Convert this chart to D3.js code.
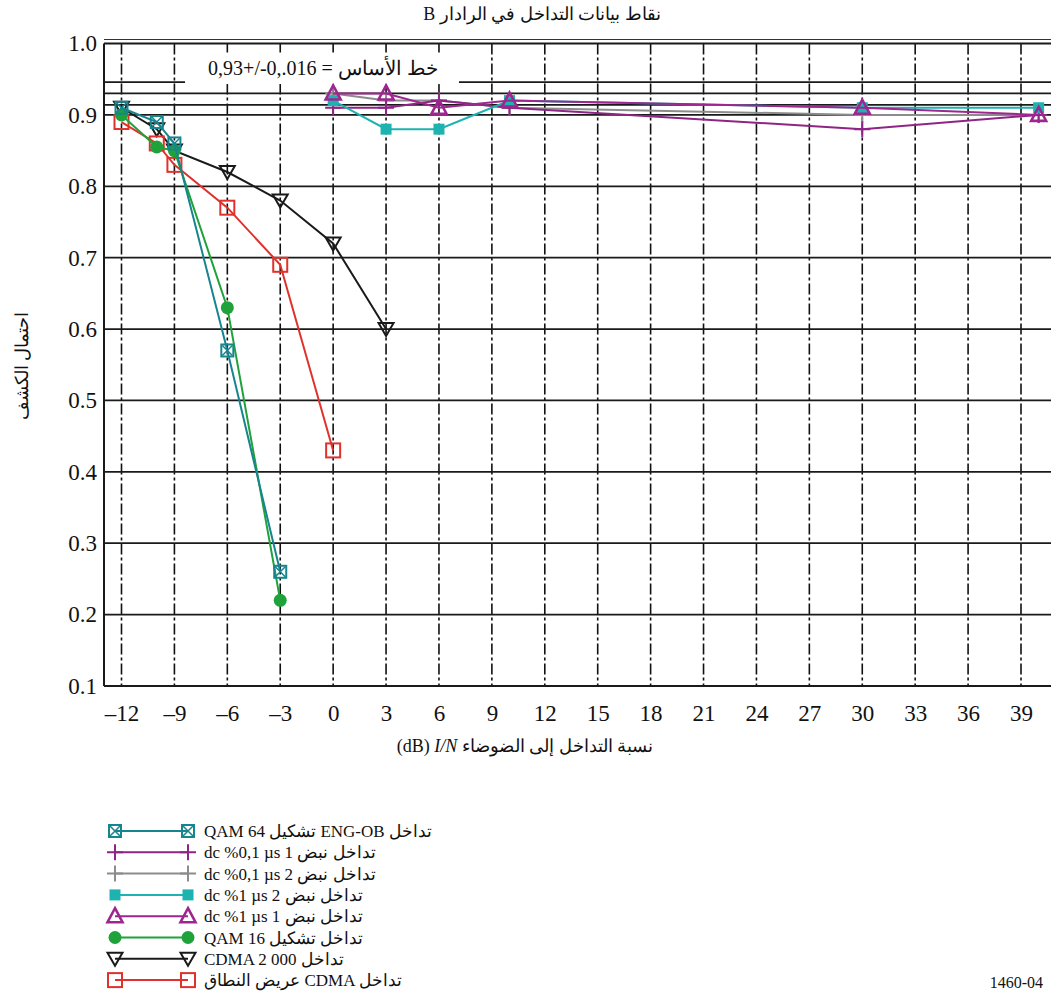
<!DOCTYPE html>
<html>
<head>
<meta charset="utf-8">
<script src="https://cdn.jsdelivr.net/npm/d3@7"></script>
<style>
  html, body { margin: 0; padding: 0; background: #fff; }
  svg { display: block; }
  text { font-family: "Liberation Serif", "DejaVu Serif", serif; fill: #111; }
</style>
</head>
<body>
<svg id="chart" width="1051" height="996"></svg>
<script>
// ---------------- DATA ----------------
const xTicks = [-12, -9, -6, -3, 0, 3, 6, 9, 12, 15, 18, 21, 24, 27, 30, 33, 36, 39];
const yTicks = [0.1, 0.2, 0.3, 0.4, 0.5, 0.6, 0.7, 0.8, 0.9, 1.0];
const baselineLevels = [0.946, 0.93, 0.914];

const engObX = [-12, -10, -9, -6, -3];
const engObY = [0.91, 0.89, 0.86, 0.57, 0.26];

const pulseX = [0, 3, 6, 10, 30, 40];
const pulse1us01Y = [0.91, 0.91, 0.92, 0.91, 0.88, 0.90];
const pulse2us01Y = [0.93, 0.92, 0.92, 0.91, 0.90, 0.90];
const pulse2us1Y  = [0.92, 0.88, 0.88, 0.92, 0.91, 0.91];
const pulse1us1Y  = [0.93, 0.93, 0.91, 0.92, 0.91, 0.90];

const qam16X = [-12, -10, -9, -6, -3];
const qam16Y = [0.90, 0.855, 0.85, 0.63, 0.22];

const cdma2000X = [-12, -10, -9, -6, -3, 0, 3];
const cdma2000Y = [0.91, 0.88, 0.85, 0.82, 0.78, 0.72, 0.60];

const wcdmaX = [-12, -10, -9, -6, -3, 0];
const wcdmaY = [0.89, 0.86, 0.83, 0.77, 0.69, 0.43];

const titleText = "نقاط بيانات التداخل في الرادار B";
const yLabelText = "احتمال الكشف";
const baselineText = "0,93+/-0,.016 = خط الأساس";
const figId = "1460-04";

// series: [name (visual order), xs, ys, colour, marker]
const series = [
  {label: "dc %0,1 µs 2 تداخل نبض", x: pulseX, y: pulse2us01Y, color: "#8c8c8c", marker: "plus"},
  {label: "dc %0,1 µs 1 تداخل نبض", x: pulseX, y: pulse1us01Y, color: "#8e2586", marker: "plus"},
  {label: "dc %1 µs 2 تداخل نبض",   x: pulseX, y: pulse2us1Y,  color: "#1db3b0", marker: "fsquare"},
  {label: "dc %1 µs 1 تداخل نبض",   x: pulseX, y: pulse1us1Y,  color: "#9e2690", marker: "triup"},
  {label: "CDMA 2 000 تداخل",        x: cdma2000X, y: cdma2000Y, color: "#1a1a1a", marker: "tridown"},
  {label: "عريض النطاق CDMA تداخل",  x: wcdmaX, y: wcdmaY, color: "#e0322c", marker: "osquare"},
  {label: "QAM 16 تداخل تشكيل",      x: qam16X, y: qam16Y, color: "#1fa23a", marker: "circle"},
  {label: "QAM 64 تشكيل ENG-OB تداخل", x: engObX, y: engObY, color: "#17858e", marker: "xsquare"}
];
const legendOrder = [
  "QAM 64 تشكيل ENG-OB تداخل",
  "dc %0,1 µs 1 تداخل نبض",
  "dc %0,1 µs 2 تداخل نبض",
  "dc %1 µs 2 تداخل نبض",
  "dc %1 µs 1 تداخل نبض",
  "QAM 16 تداخل تشكيل",
  "CDMA 2 000 تداخل",
  "عريض النطاق CDMA تداخل"
];

// ---------------- SCALES ----------------
const svg = d3.select("#chart");
const x = d3.scaleLinear().domain([-12, 39]).range([121.5, 1021]);
const y = d3.scaleLinear().domain([0.1, 1.0]).range([686, 43.5]);
const plotLeft = 104, plotRight = 1051;

// ---------------- GRID ----------------
const g = svg.append("g");
g.selectAll(".vgrid").data(xTicks).join("line")
  .attr("x1", d => x(d)).attr("x2", d => x(d))
  .attr("y1", y(1.0)).attr("y2", y(0.1))
  .attr("stroke", "#111").attr("stroke-width", 1.6)
  .attr("stroke-dasharray", "11,3,3,3");
g.selectAll(".hgrid").data(yTicks).join("line")
  .attr("x1", plotLeft).attr("x2", plotRight)
  .attr("y1", d => y(d)).attr("y2", d => y(d))
  .attr("stroke", "#1a1a1a").attr("stroke-width", d => d === 0.1 ? 2.2 : 1.8);
g.append("line").attr("x1", plotLeft).attr("x2", plotRight)
  .attr("y1", y(1.0) - 4).attr("y2", y(1.0) - 4)
  .attr("stroke", "#333").attr("stroke-width", 1);
g.selectAll(".base").data(baselineLevels).join("line")
  .attr("x1", plotLeft).attr("x2", plotRight)
  .attr("y1", d => y(d)).attr("y2", d => y(d))
  .attr("stroke", "#1a1a1a").attr("stroke-width", 1.8);
g.append("line").attr("x1", plotLeft).attr("x2", plotLeft)
  .attr("y1", y(1.0)).attr("y2", y(0.1))
  .attr("stroke", "#1a1a1a").attr("stroke-width", 2);

// baseline label box
g.append("rect").attr("x", 185).attr("y", y(1.0) + 9)
  .attr("width", 274).attr("height", y(baselineLevels[0]) - y(1.0) - 7)
  .attr("fill", "#fff");
g.append("text").attr("x", 323).attr("y", 75)
  .attr("text-anchor", "middle").attr("font-size", 20)
  .text(baselineText);

// ---------------- AXES ----------------
const yAxis = d3.axisLeft(y).tickValues(yTicks).tickFormat(d3.format(".1f"))
  .tickSize(0).tickPadding(7);
const ya = svg.append("g").attr("transform", `translate(${plotLeft},0)`).call(yAxis);
ya.select(".domain").remove();
ya.selectAll("text").attr("font-size", 23).attr("font-family", "Liberation Serif").attr("fill", "#111");

const xAxis = d3.axisBottom(x).tickValues(xTicks)
  .tickFormat(d => d < 0 ? "\u2013" + (-d) : String(d))
  .tickSize(0).tickPadding(19);
const xa = svg.append("g").attr("transform", `translate(0,${y(0.1)})`).call(xAxis);
xa.select(".domain").remove();
xa.selectAll("text").attr("font-size", 23).attr("font-family", "Liberation Serif").attr("fill", "#111");

// ---------------- MARKERS ----------------
function drawMarker(sel, type, cx, cy, color) {
  const m = sel.append("g").attr("transform", `translate(${cx},${cy})`);
  if (type === "plus") {
    m.append("path").attr("d", "M-8,0H8M0,-8V8").attr("stroke", color).attr("stroke-width", 2).attr("fill", "none");
  } else if (type === "fsquare") {
    m.append("rect").attr("x", -5.5).attr("y", -5.5).attr("width", 11).attr("height", 11).attr("fill", color);
  } else if (type === "triup") {
    m.append("path").attr("d", "M0,-8L7.5,6L-7.5,6Z").attr("stroke", color).attr("stroke-width", 2.6).attr("fill", "none");
  } else if (type === "tridown") {
    m.append("path").attr("d", "M0,7L7.5,-6L-7.5,-6Z").attr("stroke", color).attr("stroke-width", 2).attr("fill", "none");
  } else if (type === "osquare") {
    m.append("rect").attr("x", -7).attr("y", -7).attr("width", 14).attr("height", 14).attr("stroke", color).attr("stroke-width", 2).attr("fill", "none");
  } else if (type === "circle") {
    m.append("circle").attr("r", 6.5).attr("fill", color);
  } else if (type === "xsquare") {
    m.append("rect").attr("x", -6).attr("y", -6).attr("width", 12).attr("height", 12).attr("stroke", color).attr("stroke-width", 2).attr("fill", "none");
    m.append("path").attr("d", "M-5,-5L5,5M5,-5L-5,5").attr("stroke", color).attr("stroke-width", 1.5);
  }
}

// ---------------- SERIES ----------------
const line = d3.line().x(d => x(d[0])).y(d => y(d[1]));
series.forEach(s => {
  const pts = s.x.map((v, i) => [v, s.y[i]]);
  const sg = svg.append("g");
  sg.append("path").attr("d", line(pts)).attr("fill", "none")
    .attr("stroke", s.color).attr("stroke-width", 2);
  pts.forEach(p => drawMarker(sg, s.marker, x(p[0]), y(p[1]), s.color));
});

// ---------------- TEXTS ----------------
svg.append("text").attr("x", 542).attr("y", 20).attr("text-anchor", "middle")
  .attr("font-size", 18).attr("direction", "rtl").style("unicode-bidi", "embed")
  .text(titleText);

const xl = svg.append("text").attr("x", 525).attr("y", 752).attr("text-anchor", "middle")
  .attr("font-size", 18);
xl.append("tspan").text("(dB) ");
xl.append("tspan").attr("font-style", "italic").text("I/N");
xl.append("tspan").text(" نسبة التداخل إلى الضوضاء");

svg.append("text").attr("transform", "translate(28,366) rotate(-90)")
  .attr("text-anchor", "middle").attr("font-size", 18).text(yLabelText);

svg.append("text").attr("x", 1043).attr("y", 988).attr("text-anchor", "end")
  .attr("font-size", 16).text(figId);

// ---------------- LEGEND ----------------
const lg = svg.append("g");
legendOrder.forEach((lab, i) => {
  const s = series.find(t => t.label === lab);
  const ly = 831 + i * 21.3;
  lg.append("line").attr("x1", 115).attr("x2", 188).attr("y1", ly).attr("y2", ly)
    .attr("stroke", s.color).attr("stroke-width", 2);
  drawMarker(lg, s.marker, 115, ly, s.color);
  drawMarker(lg, s.marker, 188, ly, s.color);
  lg.append("text").attr("x", 204).attr("y", ly + 6).attr("font-size", 17).text(lab);
});
</script>
</body>
</html>
